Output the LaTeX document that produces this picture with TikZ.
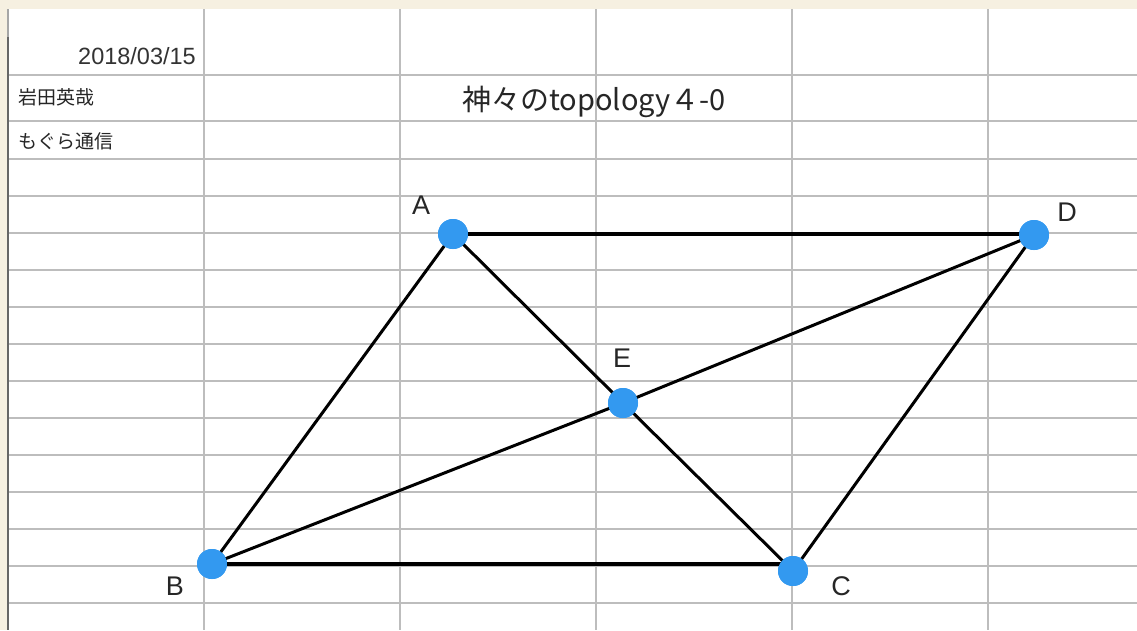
\documentclass[tikz,border=0pt]{standalone}
\usepackage{fontspec}
\setmainfont{Liberation Sans}
\newfontfamily\jpfont{Noto Sans CJK JP}
\definecolor{paper}{HTML}{F6F0E1}
\definecolor{gridc}{HTML}{BDBDBD}
\definecolor{dotc}{HTML}{3399F0}
\begin{document}
\begin{tikzpicture}[x=1pt,y=-1pt,
  gridline/.style={gridc,line width=1.4pt},
  vtx/.style={circle,fill=dotc,minimum size=30pt,inner sep=0pt},
  lbl/.style={font=\fontsize{27}{27}\selectfont,text=black!85},
  edgeh/.style={line width=4pt},
  edged/.style={line width=3pt}]
\useasboundingbox (0,0) rectangle (1137,630);
\fill[paper] (0,0) rectangle (1137,630);
\fill[white] (8,9) rectangle (1137,630);
% grid
\foreach \yy in {75,121,159,196,233,270,307,344,381,418,455,492,529,566,603}
  \draw[gridline] (8,\yy) -- (1137,\yy);
\foreach \xx in {204,400,596,792,988}
  \draw[gridline] (\xx,9) -- (\xx,630);
\draw[gray!70,line width=1.4pt] (8,9) -- (8,37);
\draw[black!60,line width=1.4pt] (8,37) -- (8,630);
% header texts
\node[anchor=east,inner sep=0pt,font=\fontsize{23.5}{23.5}\selectfont,text=black!80] (date) at (196,56) {2018/03/15};
\node[anchor=west,inner sep=0pt,font=\jpfont\fontsize{19}{19}\selectfont,text=black!85] (author) at (18,97) {岩田英哉};
\node[anchor=west,inner sep=0pt,font=\jpfont\fontsize{19}{19}\selectfont,text=black!85] (pub) at (18,141) {もぐら通信};
\node[inner sep=0pt,font=\jpfont\fontsize{29}{29}\selectfont,text=black!85] (title) at (594,102) {神々のtopology４-0};
% vertices
\node[vtx] (A) at (453,234) {};
\node[vtx] (D) at (1034,235) {};
\node[vtx] (E) at (623,403) {};
\node[vtx] (B) at (212,564) {};
\node[vtx] (C) at (793,571) {};
% edges
\draw[edgeh] (A.center) -- (A.center -| D);
\draw[edgeh] (B.center) -- (B.center -| C);
\draw[edged] (A.center) -- (B.center);
\draw[edged] (D.center) -- (C.center);
\draw[edged] (A.center) -- (E.center);
\draw[edged] (E.center) -- (C.center);
\draw[edged] (B.center) -- (E.center);
\draw[edged] (E.center) -- (D.center);
% redraw vertices on top
\foreach \v in {A,B,C,D,E} \fill[dotc] (\v) circle (15);
% labels
\node[lbl] (la) at (421,205) {A};
\node[lbl] (ld) at (1067,212) {D};
\node[lbl] (le) at (622,358) {E};
\node[lbl] (lb) at (175,586) {B};
\node[lbl] (lc) at (841,586) {C};
\end{tikzpicture}
\end{document}
